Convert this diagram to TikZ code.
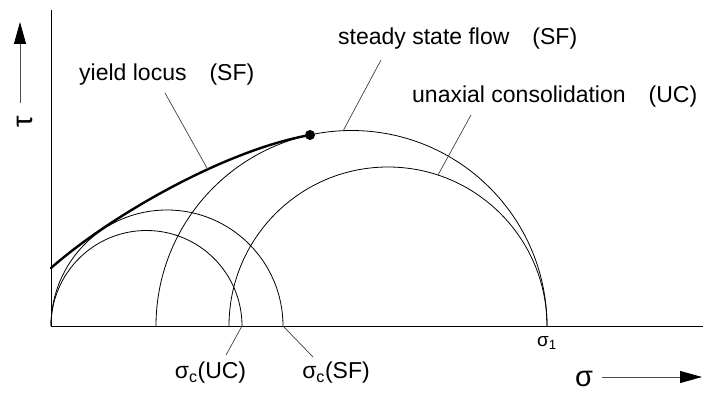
\documentclass[tikz,border=0pt]{standalone}
\usepackage{fontspec}
\setmainfont{Liberation Sans}
\usetikzlibrary{arrows.meta,positioning}

\begin{document}
\begin{tikzpicture}[x=1pt,y=1pt,
   lbl/.style={font=\fontsize{23}{27}\selectfont,inner sep=0pt,anchor=west},
   sig/.style={font=\fontsize{23}{27}\selectfont,inner sep=0pt},
   big/.style={font=\fontsize{29}{33}\selectfont,inner sep=0pt},
   axis/.style={line width=0.9pt},
   circ/.style={line width=0.8pt},
   leader/.style={line width=0.7pt,black!75},
   locus/.style={line width=2.4pt,line cap=round},
   dir/.style={line width=0.9pt,black!70,-{Triangle[length=22pt,width=12pt,black]}}]
  \useasboundingbox (0,0) rectangle (707,392);

  \coordinate (O)    at (51,66);
  \coordinate (ytop) at (51,382);
  \coordinate (xend) at (703,66);
  \draw[axis] (ytop) -- (O) -- (xend);

  \coordinate (ucA) at (242,66);
  \coordinate (sfA) at (283,66);
  \coordinate (sfB) at (156,66);
  \coordinate (ucB) at (229,66);
  \coordinate (s1)  at (547,66);
  \draw[circ] (O) arc[start angle=180,end angle=0,radius=95.5];
  \draw[circ] (O) arc[start angle=180,end angle=0,radius=116];
  \draw[circ] (sfB) arc[start angle=180,end angle=0,radius=195.5];
  \draw[circ] (ucB) arc[start angle=180,end angle=0,radius=159];

  \coordinate (ylo) at (51,124);
  \coordinate (top) at (310,257);
  \draw[locus] (ylo) .. controls (110,176) and (225,242) .. (top)
     coordinate[pos=0.63] (ylm);
  \fill (top) circle (5);

  \node[lbl] (yl) at (79,317) {yield locus\quad(SF)};
  \node[lbl] (ss) at (338,353) {steady state flow\quad(SF)};
  \node[lbl] (uc) at (412,295) {unaxial consolidation\quad(UC)};
  \node[sig] (scuc) at (210.5,19) {σ\textsubscript{c}(UC)};
  \node[sig] (scsf) at (336,19) {σ\textsubscript{c}(SF)};
  \node[sig,font=\fontsize{19}{23}\selectfont] (sone) at (547,49) {σ\textsubscript{1}};

  \coordinate (ylt) at (165,299);
  \coordinate (sst) at (381,332);
  \coordinate (ssp) at (343,261);
  \coordinate (uct) at (471,277);
  \coordinate (ucp) at (438,217);
  \coordinate (scut) at (226,37);
  \coordinate (scst) at (313,35);
  \draw[leader] (ylt) -- (ylm);
  \draw[leader] (sst) -- (ssp);
  \draw[leader] (uct) -- (ucp);
  \draw[leader] (scut) -- (ucA);
  \draw[leader] (scst) -- (sfA);

  \node[big,rotate=90] (tau) at (25,270) {τ};
  \coordinate (tau0) at (20,289);
  \coordinate (tau1) at (20,370);
  \draw[dir] (tau0) -- (tau1);
  \node[big] (sigma) at (584,13) {σ};
  \coordinate (sig0) at (602,15);
  \coordinate (sig1) at (702,15);
  \draw[dir] (sig0) -- (sig1);
\end{tikzpicture}
\end{document}
